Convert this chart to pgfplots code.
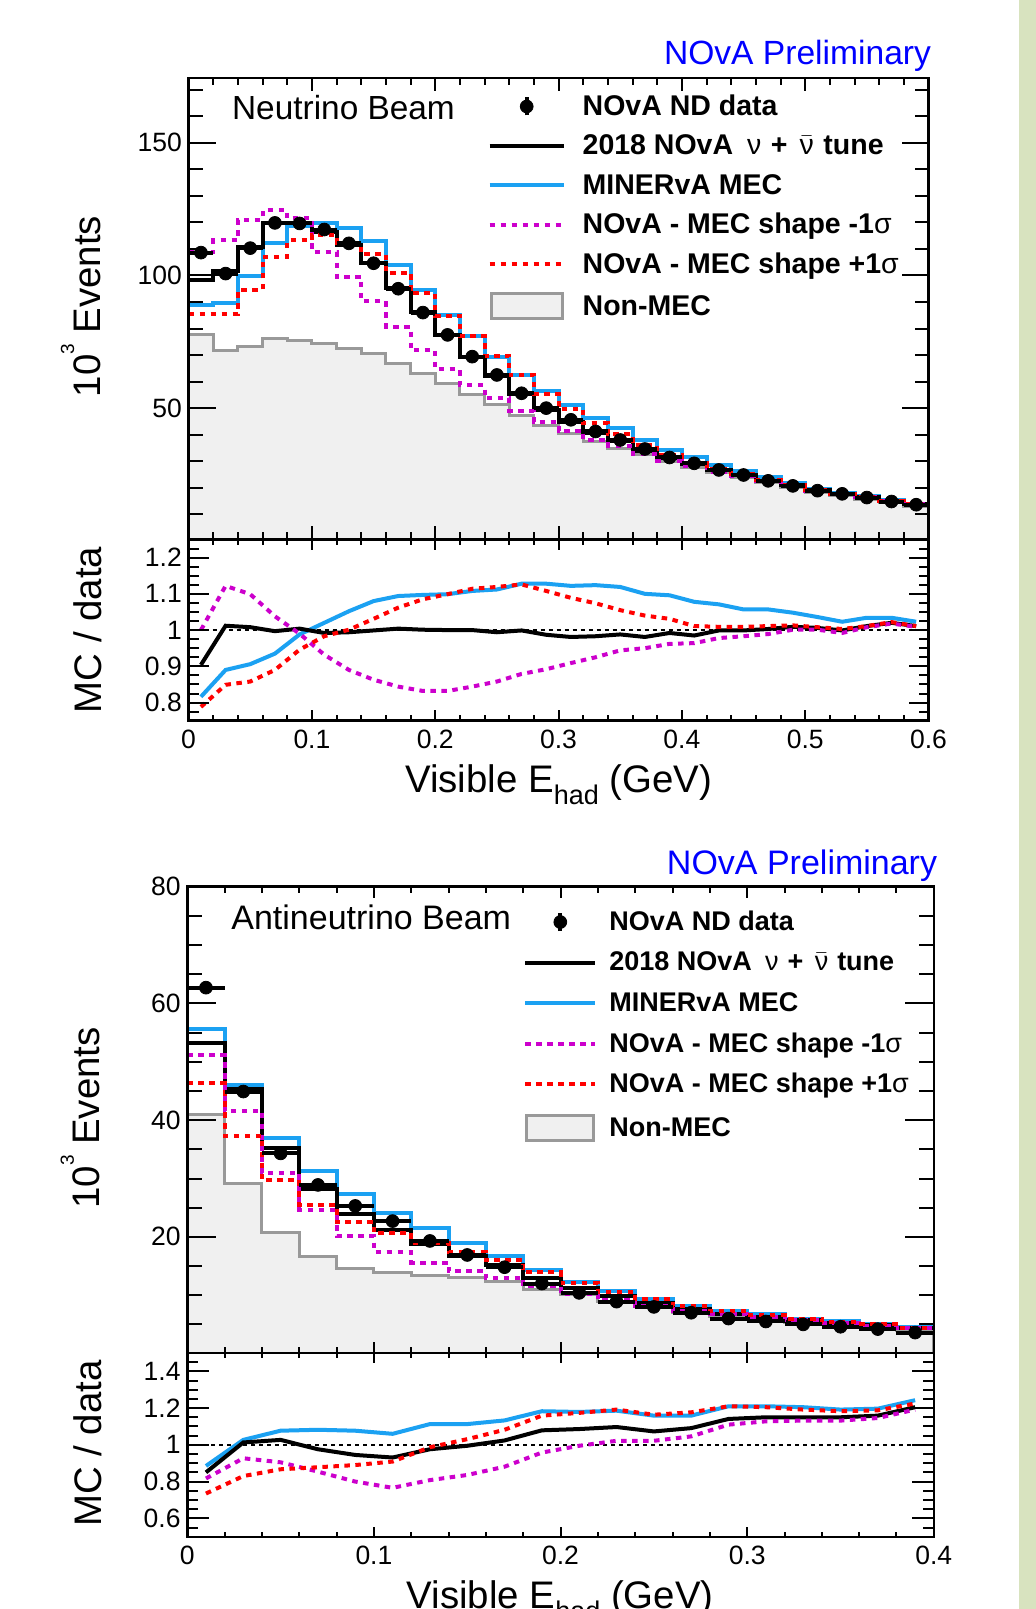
\documentclass[border=0pt]{standalone}
\usepackage{fontspec}
\setmainfont{Liberation Sans}
\usepackage{amsmath}
\usepackage{pgfplots}
\usepackage{pgfplotstable}
\pgfplotsset{compat=1.18}

\definecolor{minervablue}{HTML}{1BA1F2}
\definecolor{mecmagenta}{HTML}{CC00CC}
\definecolor{mecred}{HTML}{FF0000}
\definecolor{nonmecline}{HTML}{999999}
\definecolor{nonmecfill}{HTML}{F0F0F0}
\definecolor{novablue}{HTML}{0000FF}
\definecolor{sidebar}{HTML}{D8E3BF}

\newcommand{\lgt}{\rule[-3.85pt]{0pt}{14.25pt}}
\newcommand{\lgb}{\rule[-3.65pt]{0pt}{13.5pt}}

% neutrino beam: bin left edges, last row closes the last bin
\pgfplotstableread{
x     tune   minerva minus  plus   nonmec
0.00  98.4   88.8    108.7  85.3   77.6
0.02  101.6  89.6    113.2  85.3   71.7
0.04  110.8  99.8    121.0  94.5   73.3
0.06  119.8  112.1   124.5  107.1  76.2
0.08  119.9  118.6   121.5  113.2  75.5
0.10  116.4  119.8   109.0  115.3  74.2
0.12  111.3  118.0   99.5   112.2  72.6
0.14  104.8  112.9   90.3   107.9  70.4
0.16  95.2   104.1   80.6   101.0  67.0
0.18  86.1   94.5    71.8   93.2   63.1
0.20  77.6   85.2    64.6   84.8   59.4
0.22  69.4   77.0    58.6   77.3   55.0
0.24  62.2   69.4    53.7   69.8   51.2
0.26  55.5   62.6    48.9   62.5   47.4
0.28  49.4   56.4    44.6   55.4   43.6
0.30  44.8   51.1    41.4   49.7   40.5
0.32  40.6   46.3    38.1   44.3   37.4
0.34  37.6   42.4    35.9   40.1   34.9
0.36  34.0   38.1    32.9   36.0   32.4
0.38  31.1   34.4    30.2   32.4   29.9
0.40  28.8   31.5    28.1   29.5   27.7
0.42  26.7   28.6    26.1   26.9   25.6
0.44  24.8   26.2    24.4   25.0   23.7
0.46  22.7   23.9    22.4   22.8   21.8
0.48  20.9   21.7    20.7   21.0   20.0
0.50  19.0   19.7    18.9   19.1   18.3
0.52  17.7   18.1    17.6   17.8   17.0
0.54  16.5   16.8    16.4   16.5   15.7
0.56  15.1   15.3    15.1   15.1   14.3
0.58  13.7   13.9    13.7   13.7   13.1
0.60  13.7   13.9    13.7   13.7   13.1
}\tophist

\pgfplotstableread{
x     y
0.01  108.6
0.03  100.7
0.05  110.3
0.07  119.8
0.09  119.6
0.11  117.3
0.13  112.1
0.15  104.6
0.17  95.0
0.19  86.0
0.21  77.6
0.23  69.4
0.25  62.5
0.27  55.6
0.29  50.0
0.31  45.6
0.33  41.2
0.35  38.0
0.37  34.6
0.39  31.4
0.41  29.2
0.43  26.7
0.45  24.8
0.47  22.6
0.49  20.7
0.51  18.9
0.53  17.7
0.55  16.3
0.57  14.8
0.59  13.6
}\topdata

\pgfplotstableread{
x     tune   minerva minus  plus
0.01  0.904  0.816   1.000  0.788
0.03  1.012  0.890   1.122  0.849
0.05  1.008  0.906   1.099  0.858
0.07  0.997  0.935   1.038  0.890
0.09  1.004  0.988   0.990  0.946
0.11  0.992  1.020   0.932  0.983
0.13  0.994  1.052   0.890  1.001
0.15  0.999  1.080   0.863  1.031
0.17  1.004  1.094   0.844  1.062
0.19  1.001  1.097   0.832  1.085
0.21  1.000  1.099   0.832  1.099
0.23  1.000  1.108   0.844  1.114
0.25  0.994  1.112   0.858  1.119
0.27  0.999  1.128   0.879  1.126
0.29  0.987  1.128   0.892  1.108
0.31  0.981  1.122   0.909  1.089
0.33  0.983  1.124   0.925  1.074
0.35  0.988  1.119   0.944  1.055
0.37  0.981  1.100   0.950  1.040
0.39  0.992  1.096   0.962  1.031
0.41  0.985  1.078   0.964  1.011
0.43  0.999  1.071   0.978  1.009
0.45  0.999  1.057   0.983  1.009
0.47  1.003  1.057   0.989  1.011
0.49  1.009  1.048   1.001  1.013
0.51  1.006  1.036   1.001  1.008
0.53  0.999  1.023   0.992  1.003
0.55  1.011  1.034   1.008  1.011
0.57  1.020  1.034   1.018  1.022
0.59  1.011  1.023   1.009  1.011
}\topratio

% antineutrino beam
\pgfplotstableread{
x     tune   minerva minus  plus   nonmec
0.00  53.3   55.6    51.1   46.3   41.0
0.02  45.4   46.0    41.6   37.3   29.1
0.04  35.2   37.0    31.0   29.7   20.8
0.06  28.2   31.3    24.6   25.4   16.6
0.08  23.9   27.3    20.1   22.5   14.5
0.10  21.1   24.1    17.4   20.6   13.9
0.12  18.8   21.5    15.6   19.0   13.3
0.14  16.8   19.0    14.1   17.4   13.0
0.16  15.2   16.7    13.0   16.0   12.3
0.18  12.9   14.3    11.5   13.9   11.0
0.20  11.2   12.3    10.2   12.1   10.1
0.22  9.8    10.7    9.1    10.6   9.0
0.24  8.6    9.4     8.2    9.3    8.0
0.26  7.6    8.2     7.3    8.2    7.1
0.28  6.8    7.3     6.7    7.3    6.3
0.30  6.3    6.7     6.2    6.6    5.8
0.32  5.75   6.0     5.7    6.0    5.3
0.34  5.3    5.5     5.2    5.4    4.9
0.36  4.9    5.0     4.8    5.0    4.5
0.38  4.3    4.5     4.3    4.4    4.0
0.40  4.3    4.5     4.3    4.4    4.0
}\bothist

\pgfplotstableread{
x     y
0.01  62.7
0.03  44.9
0.05  34.3
0.07  28.9
0.09  25.3
0.11  22.7
0.13  19.3
0.15  16.9
0.17  14.8
0.19  12.0
0.21  10.4
0.23  8.9
0.25  8.0
0.27  7.0
0.29  6.0
0.31  5.5
0.33  5.0
0.35  4.6
0.37  4.2
0.39  3.6
}\botdata

\pgfplotstableread{
x     tune   minerva minus  plus
0.01  0.850  0.885   0.817  0.735
0.03  1.013  1.027   0.927  0.830
0.05  1.027  1.077   0.905  0.867
0.07  0.976  1.082   0.854  0.878
0.09  0.945  1.077   0.800  0.890
0.11  0.931  1.060   0.766  0.909
0.13  0.976  1.113   0.808  0.987
0.15  0.995  1.113   0.836  1.031
0.17  1.024  1.133   0.881  1.082
0.19  1.079  1.183   0.958  1.159
0.21  1.086  1.179   0.995  1.174
0.23  1.097  1.186   1.022  1.192
0.25  1.073  1.159   1.022  1.164
0.27  1.091  1.159   1.046  1.177
0.29  1.141  1.210   1.110  1.210
0.31  1.150  1.210   1.128  1.205
0.33  1.150  1.205   1.132  1.192
0.35  1.150  1.192   1.132  1.183
0.37  1.159  1.197   1.146  1.188
0.39  1.205  1.243   1.192  1.225
}\botratio

\pgfplotsset{
  novabase/.style={
    scale only axis, axis on top, clip=true,
    axis line style={line width=1.2pt},
    tick align=inside, xtick pos=both, ytick pos=both,
    tick style={black, line width=1pt},
    ticklabel style={font=\fontsize{13.25}{14}\selectfont},
    /pgf/number format/assume math mode=true,
    yticklabel style={inner sep=0pt, xshift=-3.2pt, anchor=east},
    xticklabel style={inner sep=0pt, yshift=-4.3pt, anchor=north},
    label style={font=\fontsize{19.2}{20}\selectfont},
  },
  hist/.style={const plot, line width=2pt},
  mecdot/.style={line width=2pt, dash pattern=on 2.75pt off 2.75pt},
}

\begin{document}
\begin{tikzpicture}
\useasboundingbox (0pt,0pt) rectangle (518pt,804.5pt);
\clip (0pt,0pt) rectangle (518pt,804.5pt);
\fill[white] (0pt,0pt) rectangle (518pt,804.5pt);
\fill[sidebar] (509.65pt,0pt) rectangle (518pt,804.5pt);

% ---------- neutrino beam, spectrum ----------
\begin{axis}[novabase, name=tmain, at={(94.3pt,765.35pt)}, anchor=north west,
  width=369.95pt, height=230.6pt,
  xmin=0, xmax=0.6, ymin=0.5, ymax=174.3,
  xtick={0,0.1,0.2,0.3,0.4,0.5,0.6},
  minor xtick={0.02,0.04,0.06,0.08,0.12,0.14,0.16,0.18,0.22,0.24,0.26,0.28,0.32,0.34,0.36,0.38,0.42,0.44,0.46,0.48,0.52,0.54,0.56,0.58},
  xticklabels={},
  ytick={50,100,150},
  minor ytick={10,20,30,40,60,70,80,90,110,120,130,140,160,170},
  xtick style={/pgfplots/major tick length=6.5pt, /pgfplots/minor tick length=3.5pt},
  ytick style={/pgfplots/major tick length=13.5pt, /pgfplots/minor tick length=7pt},
  ylabel={10\raisebox{13pt}{\fontsize{9.5}{10}\selectfont 3} Events},
  ylabel style={at={(axis description cs:-0.1197,0.505)}, anchor=base},
  legend cell align=left,
  legend style={draw=none, fill=none, inner sep=0pt, inner xsep=0pt, inner ysep=0pt,
    at={(axis description cs:0.4037,0.9655)}, anchor=north west,
    row sep=7.85pt, column sep=0pt, font=\bfseries\fontsize{14.25}{15}\selectfont,
    nodes={inner sep=0pt}},
  legend image code/.code={\draw[#1] (0pt,0pt) -- (37pt,0pt); \path (45.5pt,0pt);},
]
\addlegendimage{legend image code/.code={\draw[line width=2pt] (18.5pt,-4.5pt) -- (18.5pt,4.5pt); \fill (18.5pt,0pt) circle[radius=3.2pt]; \path (0pt,0pt) (45.5pt,0pt);}}
\addlegendentry{\lgt NOvA ND data}
\addlegendimage{black, line width=2pt}
\addlegendentry{\lgt 2018 NOvA\hspace{7pt}{\mdseries ν}\hspace{4.75pt}+\hspace{6pt}$\bar{\text{\mdseries ν}}$\hspace{4.8pt}tune}
\addlegendimage{minervablue, line width=2pt}
\addlegendentry{\lgt MINERvA MEC}
\addlegendimage{mecmagenta, mecdot}
\addlegendentry{\lgt NOvA - MEC shape -1{\mdseries σ}}
\addlegendimage{mecred, mecdot}
\addlegendentry{\lgt NOvA - MEC shape +1{\mdseries σ}}
\addlegendimage{legend image code/.code={\draw[nonmecline, fill=nonmecfill, line width=1.5pt] (0.75pt,-6.3pt) rectangle (36.25pt,6.3pt); \path (0pt,0pt) (45.5pt,0pt);}}
\addlegendentry{\lgt Non-MEC}

\addplot[hist, draw=nonmecline, line width=1.5pt, fill=nonmecfill, forget plot] table[x=x, y=nonmec] {\tophist} \closedcycle;
\addplot[hist, minervablue, forget plot] table[x=x, y=minerva] {\tophist};
\addplot[hist, black, forget plot] table[x=x, y=tune] {\tophist};
\addplot[hist, mecmagenta, mecdot, forget plot] table[x=x, y=minus] {\tophist};
\addplot[hist, mecred, mecdot, forget plot] table[x=x, y=plus] {\tophist};
\addplot[only marks, mark=*, mark size=3.2pt, black, forget plot,
  error bars/.cd, x dir=both, x fixed=0.01, error mark=none,
  error bar style={line width=2pt, black}] table[x=x, y=y] {\topdata};
\end{axis}

% ---------- neutrino beam, ratio ----------
\begin{axis}[novabase, name=trat, at={(94.3pt,534.75pt)}, anchor=north west,
  width=369.95pt, height=90.6pt,
  xmin=0, xmax=0.6, ymin=0.75, ymax=1.25,
  xtick={0,0.1,0.2,0.3,0.4,0.5,0.6},
  minor xtick={0.02,0.04,0.06,0.08,0.12,0.14,0.16,0.18,0.22,0.24,0.26,0.28,0.32,0.34,0.36,0.38,0.42,0.44,0.46,0.48,0.52,0.54,0.56,0.58},
  ytick={0.8,0.9,1,1.1,1.2},
  minor ytick={0.775,0.825,0.85,0.875,0.925,0.95,0.975,1.025,1.05,1.075,1.125,1.15,1.175,1.225},
  xtick style={/pgfplots/major tick length=5.3pt, /pgfplots/minor tick length=2.8pt},
  ytick style={/pgfplots/major tick length=10pt, /pgfplots/minor tick length=5pt},
  xlabel={Visible E\raisebox{-6pt}{\fontsize{13.5}{14}\selectfont had} (GeV)},
  xlabel style={at={(axis description cs:0.5,-0.399)}, anchor=base},
  ylabel={MC / data},
  ylabel style={at={(axis description cs:-0.1174,0.5006)}, anchor=base},
]
\addplot[black, line width=1pt, dash pattern=on 2pt off 2pt] coordinates {(0,1) (0.6,1)};
\addplot[minervablue, line width=2pt] table[x=x, y=minerva] {\topratio};
\addplot[black, line width=2pt] table[x=x, y=tune] {\topratio};
\addplot[mecmagenta, mecdot] table[x=x, y=minus] {\topratio};
\addplot[mecred, mecdot] table[x=x, y=plus] {\topratio};
\end{axis}

% ---------- antineutrino beam, spectrum ----------
\begin{axis}[novabase, name=bmain, at={(93.65pt,361.15pt)}, anchor=north west,
  width=373.25pt, height=233.15pt,
  xmin=0, xmax=0.4, ymin=0.1, ymax=80,
  xtick={0,0.1,0.2,0.3,0.4},
  minor xtick={0.02,0.04,0.06,0.08,0.12,0.14,0.16,0.18,0.22,0.24,0.26,0.28,0.32,0.34,0.36,0.38},
  xticklabels={},
  ytick={20,40,60,80},
  minor ytick={5,10,15,25,30,35,45,50,55,65,70,75},
  xtick style={/pgfplots/major tick length=5.5pt, /pgfplots/minor tick length=3pt},
  ytick style={/pgfplots/major tick length=14.5pt, /pgfplots/minor tick length=7.3pt},
  ylabel={10\raisebox{13pt}{\fontsize{9.5}{10}\selectfont 3} Events},
  ylabel style={at={(axis description cs:-0.117,0.504)}, anchor=base},
  legend cell align=left,
  legend style={draw=none, fill=none, inner sep=0pt, inner xsep=0pt, inner ysep=0pt,
    at={(axis description cs:0.4493,0.9494)}, anchor=north west,
    row sep=8.95pt, column sep=0pt, font=\bfseries\fontsize{13.5}{14}\selectfont,
    nodes={inner sep=0pt}},
  legend image code/.code={\draw[#1] (0pt,0pt) -- (35.15pt,0pt); \path (41.1pt,0pt);},
]
\addlegendimage{legend image code/.code={\draw[line width=2pt] (17.6pt,-4.5pt) -- (17.6pt,4.5pt); \fill (17.6pt,0pt) circle[radius=3.2pt]; \path (0pt,0pt) (41.1pt,0pt);}}
\addlegendentry{\lgb NOvA ND data}
\addlegendimage{black, line width=2pt}
\addlegendentry{\lgb 2018 NOvA\hspace{6.6pt}{\mdseries ν}\hspace{4.5pt}+\hspace{5.7pt}$\bar{\text{\mdseries ν}}$\hspace{4.5pt}tune}
\addlegendimage{minervablue, line width=2pt}
\addlegendentry{\lgb MINERvA MEC}
\addlegendimage{mecmagenta, mecdot}
\addlegendentry{\lgb NOvA - MEC shape -1{\mdseries σ}}
\addlegendimage{mecred, mecdot}
\addlegendentry{\lgb NOvA - MEC shape +1{\mdseries σ}}
\addlegendimage{legend image code/.code={\draw[nonmecline, fill=nonmecfill, line width=1.5pt] (0.75pt,-6.4pt) rectangle (34.4pt,6.4pt); \path (0pt,0pt) (41.1pt,0pt);}}
\addlegendentry{\lgb Non-MEC}

\addplot[hist, draw=nonmecline, line width=1.5pt, fill=nonmecfill, forget plot] table[x=x, y=nonmec] {\bothist} \closedcycle;
\addplot[hist, minervablue, forget plot] table[x=x, y=minerva] {\bothist};
\addplot[hist, black, forget plot] table[x=x, y=tune] {\bothist};
\addplot[hist, mecmagenta, mecdot, forget plot] table[x=x, y=minus] {\bothist};
\addplot[hist, mecred, mecdot, forget plot] table[x=x, y=plus] {\bothist};
\addplot[only marks, mark=*, mark size=3.2pt, black, forget plot,
  error bars/.cd, x dir=both, x fixed=0.01, error mark=none,
  error bar style={line width=2pt, black}] table[x=x, y=y] {\botdata};
\end{axis}

% ---------- antineutrino beam, ratio ----------
\begin{axis}[novabase, name=brat, at={(93.65pt,128pt)}, anchor=north west,
  width=373.25pt, height=91.85pt,
  xmin=0, xmax=0.4, ymin=0.5, ymax=1.5,
  xtick={0,0.1,0.2,0.3,0.4},
  minor xtick={0.02,0.04,0.06,0.08,0.12,0.14,0.16,0.18,0.22,0.24,0.26,0.28,0.32,0.34,0.36,0.38},
  ytick={0.6,0.8,1,1.2,1.4},
  minor ytick={0.55,0.65,0.7,0.75,0.85,0.9,0.95,1.05,1.1,1.15,1.25,1.3,1.35,1.45},
  xtick style={/pgfplots/major tick length=5pt, /pgfplots/minor tick length=2.5pt},
  ytick style={/pgfplots/major tick length=11pt, /pgfplots/minor tick length=5.5pt},
  xlabel={Visible E\raisebox{-6pt}{\fontsize{13.5}{14}\selectfont had} (GeV)},
  xlabel style={at={(axis description cs:0.4993,-0.392)}, anchor=base},
  ylabel={MC / data},
  ylabel style={at={(axis description cs:-0.1147,0.507)}, anchor=base},
]
\addplot[black, line width=1pt, dash pattern=on 2pt off 2pt] coordinates {(0,1) (0.4,1)};
\addplot[minervablue, line width=2pt] table[x=x, y=minerva] {\botratio};
\addplot[black, line width=2pt] table[x=x, y=tune] {\botratio};
\addplot[mecmagenta, mecdot] table[x=x, y=minus] {\botratio};
\addplot[mecred, mecdot] table[x=x, y=plus] {\botratio};
\end{axis}

\node[anchor=base east, inner sep=0pt, text=novablue, font=\fontsize{16.8}{17}\selectfont] at (465.7pt,772pt) {NOvA Preliminary};
\node[anchor=base west, inner sep=0pt, font=\fontsize{16.7}{17}\selectfont] at (115.85pt,744.5pt) {Neutrino Beam};
\node[anchor=base east, inner sep=0pt, text=novablue, font=\fontsize{17}{17}\selectfont] at (468.75pt,367pt) {NOvA Preliminary};
\node[anchor=base west, inner sep=0pt, font=\fontsize{17}{17}\selectfont] at (115.5pt,339.5pt) {Antineutrino Beam};
\end{tikzpicture}
\end{document}
